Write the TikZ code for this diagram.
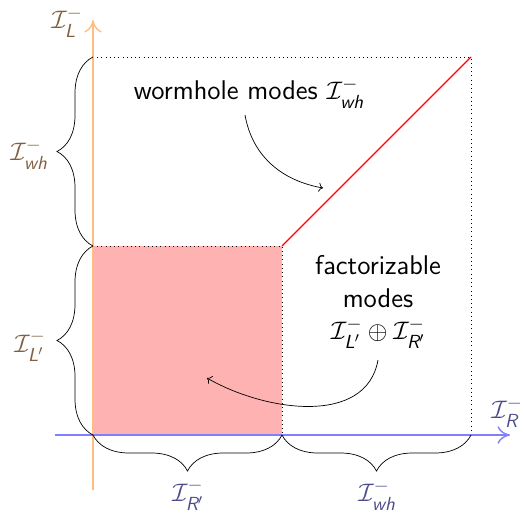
\documentclass[tikz,border=0pt]{standalone}
\usepackage{amsmath,amssymb}
\usepackage{tikz}
\usetikzlibrary{arrows.meta, positioning, calc, decorations.pathreplacing}
\definecolor{axisL}{RGB}{255, 190, 128}
\definecolor{axisR}{RGB}{128, 128, 255}
\definecolor{labL}{RGB}{128, 96, 64}
\definecolor{labR}{RGB}{76, 76, 140}
\DeclareMathAlphabet{\mathsfit}{TU}{lmss}{m}{sl}
\newcommand{\Imin}[1]{\mathcal{I}^{-}_{\mathsfit{#1}}}

\begin{document}
\begin{tikzpicture}[
    font=\sffamily\fontsize{15.4}{18.5}\selectfont,
    ax/.style={-{To[length=2.5mm, width=3.5mm]}, thick},
    dots/.style={dotted},
    brc/.style={decorate, decoration={brace, amplitude=0.72cm}},
    txt/.style={align=center, inner sep=1pt},
    arr/.style={->}
]
\useasboundingbox (-1.86,-1.6) rectangle (8.62,8.7);

\coordinate (O) at (0,0);
\coordinate (M) at (3.78,3.78);
\coordinate (T) at (7.56,7.56);

% factorizable block
\fill[red!30] (O) rectangle (M);

% dotted frame
\draw[dots] (0,7.56) -- (T) -- (7.56,0);
\draw[dots] (0,3.78) -- (M) -- (3.78,0);

% wormhole modes
\draw[red, thick] (M) -- (T);

% axes
\draw[ax, axisL] (0,-1.1) -- (0,8.3) coordinate (Ltip);
\draw[ax, axisR] (-0.76,0) -- (8.34,0) coordinate (Rtip);
\node[labL] (IL) at (-0.52,8.26) {$\Imin{L}$};
\node[labR] (IR) at (8.28,0.46) {$\Imin{R}$};

% braces
\draw[brc] (0,3.78) -- (0,7.56);
\draw[brc] (0,0) -- (0,3.78);
\draw[brc] (3.78,0) -- (0,0);
\draw[brc] (7.56,0) -- (3.78,0);

\node[labL] (whL) at (-1.28,5.62) {$\Imin{wh}$};
\node[labL] (Lp) at (-1.26,1.78) {$\Imin{L'}$};
\node[labR] (Rp) at (1.9,-1.2) {$\Imin{R'}$};
\node[labR] (whR) at (5.68,-1.2) {$\Imin{wh}$};

% annotations
\node[txt] (wh) at (3.12,6.84) {wormhole modes $\Imin{wh}$};
\node[txt] (fact) at (5.7,2.66) {factorizable\\modes\\$\Imin{L'}\oplus\Imin{R'}$};

\coordinate (whend) at (4.6,4.94);
\coordinate (factend) at (2.28,1.14);
\draw[arr] (3.04,6.4) to[out=-80, in=170] (whend);
\draw[arr] (5.7,1.5) to[out=-100, in=-30] (factend);

\end{tikzpicture}
\end{document}
